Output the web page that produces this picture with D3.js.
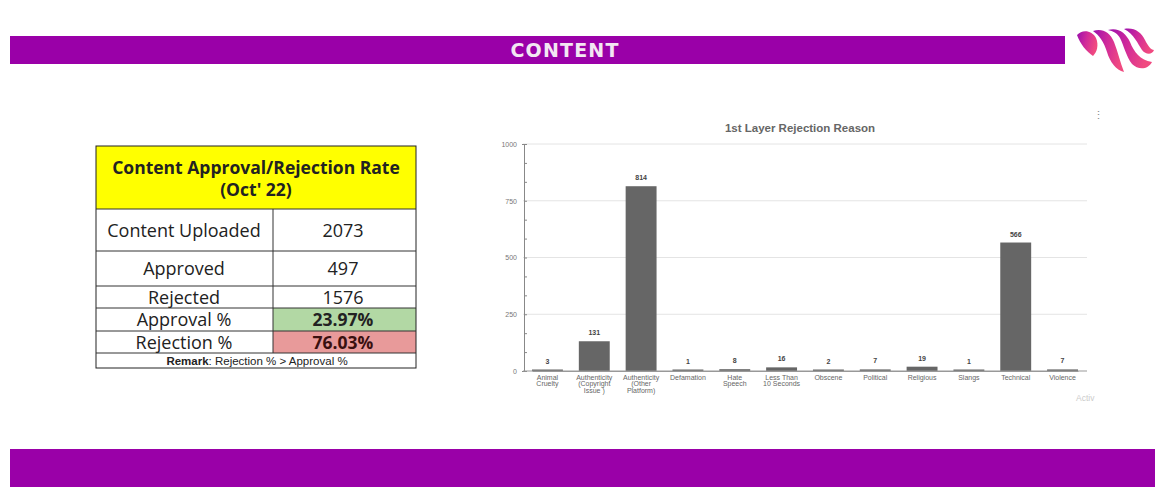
<!DOCTYPE html>
<html><head><meta charset="utf-8">
<script src="https://cdn.jsdelivr.net/npm/d3@7"></script>
<style>body{margin:0;background:#fff;overflow:hidden}svg{display:block}</style>
</head><body><svg id="c" width="1155" height="487"></svg>
<script>
const categories = ["Animal\nCruelty","Authenticity\n(Copyright\nIssue )","Authenticity\n(Other\nPlatform)","Defamation","Hate\nSpeech","Less Than\n10 Seconds","Obscene","Political","Religious","Slangs","Technical","Violence"];
const values = [3,131,814,1,8,16,2,7,19,1,566,7];
const yTicks = [0,250,500,750,1000];
const tableRows = [["Content Uploaded","2073"],["Approved","497"],["Rejected","1576"],["Approval %","23.97%"],["Rejection %","76.03%"]];
const tableTitle = ["Content Approval/Rejection Rate","(Oct' 22)"];

const svg = d3.select("#c");
// header and footer bars
svg.append("rect").attr("x",10).attr("y",36).attr("width",1055).attr("height",28).attr("fill","#9a00a8");
svg.append("text").attr("x",565).attr("y",57).attr("text-anchor","middle").attr("fill","#f3e6f3")
  .attr("font-family","DejaVu Sans").attr("font-weight","bold").attr("font-size",19).attr("letter-spacing",1.2).text("CONTENT");
svg.append("rect").attr("x",10).attr("y",449).attr("width",1145).attr("height",38).attr("fill","#9a00a8");

// logo
const defs = svg.append("defs");
const g1 = defs.append("linearGradient").attr("id","lg").attr("x1","0").attr("x2","1").attr("y1","0").attr("y2","0.3");
g1.append("stop").attr("offset","0").attr("stop-color","#9a0fae");
g1.append("stop").attr("offset","0.5").attr("stop-color","#d02a9a");
g1.append("stop").attr("offset","1").attr("stop-color","#f04a80");
const logo = svg.append("g").attr("fill","url(#lg)");
logo.append("path").attr("d","M1077,35 C1082,29 1092,30 1096,38 C1099,45 1097,52 1093,56 C1087,52 1080,44 1077,35 Z");
logo.append("path").attr("d","M1093,31 C1102,28 1110,32 1114,42 C1118,52 1120,62 1124,72 C1116,70 1110,62 1107,52 C1104,42 1099,35 1093,31 Z");
logo.append("path").attr("d","M1108,30 C1118,27 1126,33 1130,42 C1134,52 1140,60 1152,62 C1148,70 1138,70 1132,64 C1126,56 1124,46 1120,38 C1117,33 1113,31 1108,30 Z");
logo.append("path").attr("d","M1124,29 C1134,27 1141,32 1145,40 C1148,46 1151,50 1154,50 C1152,55 1146,55 1142,50 C1138,44 1134,34 1124,29 Z");

// table
const tx = 96, tw = 320, cx = 273;
const T = svg.append("g").attr("font-family","Open Sans, Lato, sans-serif");
T.append("rect").attr("x",tx).attr("y",146).attr("width",tw).attr("height",63).attr("fill","#ffff00");
const rowY = [209,251,286,308,331,353,368];
T.append("rect").attr("x",cx).attr("y",rowY[3]).attr("width",tx+tw-cx).attr("height",rowY[4]-rowY[3]).attr("fill","#b2d8a4");
T.append("rect").attr("x",cx).attr("y",rowY[4]).attr("width",tx+tw-cx).attr("height",rowY[5]-rowY[4]).attr("fill","#e89a9a");
T.append("rect").attr("x",tx).attr("y",146).attr("width",tw).attr("height",222).attr("fill","none").attr("stroke","#222").attr("stroke-width",1);
rowY.slice(0,6).forEach(y=>T.append("line").attr("x1",tx).attr("x2",tx+tw).attr("y1",y).attr("y2",y).attr("stroke","#333").attr("stroke-width",1));
T.append("line").attr("x1",cx).attr("x2",cx).attr("y1",rowY[0]).attr("y2",rowY[5]).attr("stroke","#333");
T.append("text").attr("x",256).attr("y",174).attr("text-anchor","middle").attr("font-weight","bold").attr("font-size",17.5).attr("fill","#222").text(tableTitle[0]);
T.append("text").attr("x",256).attr("y",196).attr("text-anchor","middle").attr("font-weight","bold").attr("font-size",17.5).attr("fill","#222").text(tableTitle[1]);
tableRows.forEach((r,i)=>{
  const ym = (rowY[i]+rowY[i+1])/2 + 6.5;
  const bold = i>=3;
  T.append("text").attr("x",184).attr("y",ym).attr("text-anchor","middle").attr("font-size",18).attr("fill","#222").text(r[0]);
  T.append("text").attr("x",343).attr("y",ym).attr("text-anchor","middle").attr("font-size",bold?17.5:18).attr("font-weight",bold?"bold":"normal")
    .attr("fill", i==4?"#3a1010":"#222").text(r[1]);
});
T.append("text").attr("x",257).attr("y",364.5).attr("text-anchor","middle").attr("font-family","Liberation Sans, Arial").attr("font-size",11.5).attr("fill","#222")
  .html('<tspan font-weight="bold">Remark</tspan>: Rejection % &gt; Approval %');

// chart
const x = d3.scaleBand().domain(categories).range([532,1078]).paddingInner(0.34).paddingOuter(0);
const y = d3.scaleLinear().domain([0,1000]).range([371,144]);
const C = svg.append("g").attr("font-family","Liberation Sans, Arial, sans-serif");
C.append("text").attr("x",800).attr("y",132).attr("text-anchor","middle").attr("font-weight","bold").attr("font-size",11.5).attr("fill","#666").text("1st Layer Rejection Reason");
C.append("text").attr("x",1098).attr("y",119).attr("text-anchor","middle").attr("font-size",11).attr("fill","#888").text("⋮");
// grid
C.append("g").selectAll("line").data(yTicks.slice(1)).join("line")
  .attr("x1",523).attr("x2",1087).attr("y1",d=>y(d)).attr("y2",d=>y(d)).attr("stroke","#e4e4e4").attr("stroke-width",1);
// y axis
const yAxis = C.append("g").attr("transform","translate(524,0)")
  .call(d3.axisLeft(y).tickValues(d3.range(0,1001,250/3)).tickSize(2).tickFormat(d=>yTicks.some(t=>Math.abs(t-d)<0.01)?d3.format("d")(d):""));
yAxis.select(".domain").attr("stroke","#888");
yAxis.selectAll(".tick line").attr("stroke","#888").attr("x2",3);
yAxis.selectAll(".tick text").attr("font-size",7).attr("fill","#777").attr("x",-7);
// bars
C.append("g").selectAll("rect").data(values).join("rect")
  .attr("x",(d,i)=>x(categories[i])).attr("width",x.bandwidth())
  .attr("y",d=>Math.min(y(d),y(0)-1.5)).attr("height",d=>Math.max(y(0)-y(d),1.5)).attr("fill","#666");
C.append("g").selectAll("text").data(values).join("text")
  .attr("x",(d,i)=>x(categories[i])+x.bandwidth()/2).attr("y",d=>Math.min(y(d),y(0)-1.5)-6)
  .attr("text-anchor","middle").attr("font-size",7).attr("font-weight","bold").attr("fill","#444").text(d=>d);
// baseline & x axis
const xAxis = C.append("g").attr("transform","translate(0,371)").call(d3.axisBottom(x).tickSize(0).tickFormat(""));
xAxis.select(".domain").attr("stroke","#999");
C.append("line").attr("x1",523).attr("x2",1087).attr("y1",371).attr("y2",371).attr("stroke","#999");
categories.forEach(c=>{
  const lines = c.split("\n");
  const t = C.append("text").attr("x",x(c)+x.bandwidth()/2).attr("y",380).attr("text-anchor","middle").attr("font-size",7).attr("fill","#666");
  lines.forEach((l,j)=>t.append("tspan").attr("x",x(c)+x.bandwidth()/2).attr("dy",j?6.3:0).text(l));
});
C.append("text").attr("x",1076).attr("y",401).attr("font-size",8.5).attr("fill","#ccc").text("Activ");
</script></body></html>
